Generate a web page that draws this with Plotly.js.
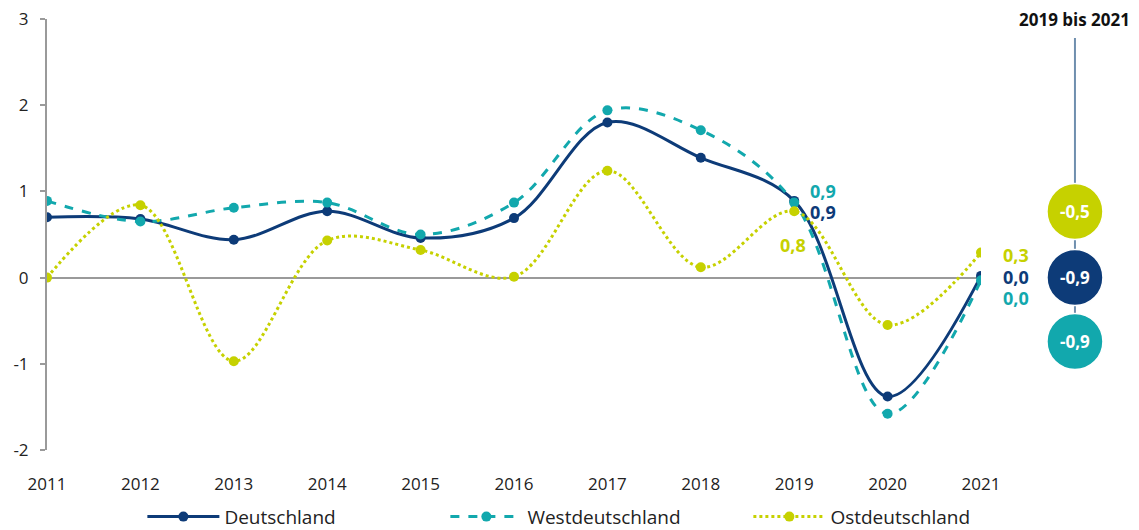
<!DOCTYPE html>
<html>
<head>
<meta charset="utf-8">
<script src="https://cdn.plot.ly/plotly-3.0.1.min.js"></script>
<style>html,body{margin:0;padding:0;background:#fff;}#chart{width:1139px;height:530px;}</style>
</head>
<body>
<div id="chart"></div>
<script>
const years = [2011, 2012, 2013, 2014, 2015, 2016, 2017, 2018, 2019, 2020, 2021];
const deutschland = [0.70, 0.68, 0.44, 0.77, 0.46, 0.69, 1.80, 1.39, 0.89, -1.38, 0.02];
const westdeutschland = [0.89, 0.65, 0.81, 0.87, 0.50, 0.87, 1.94, 1.71, 0.87, -1.58, -0.03];
const ostdeutschland = [0.00, 0.84, -0.97, 0.43, 0.32, 0.01, 1.24, 0.12, 0.77, -0.55, 0.29];
const seriesNames = ["Deutschland", "Westdeutschland", "Ostdeutschland"];
const yTicks = [-2, -1, 0, 1, 2, 3];
const periodTitle = "2019 bis 2021";

const C_D = "#0d3b78", C_W = "#12a8ad", C_O = "#c6d100";
const FONT = "Open Sans, sans-serif";

function fmt(v) {
  let s = (Math.round(v * 10) / 10).toFixed(1);
  if (s === "-0.0") s = "0.0";
  return s.replace(".", ",");
}

const i19 = years.indexOf(2019), i21 = years.indexOf(2021);

const traces = [
  {x: years, y: deutschland, name: seriesNames[0], mode: "lines+markers",
   line: {color: C_D, width: 3, shape: "spline", smoothing: 1}, marker: {color: C_D, size: 10}},
  {x: years, y: westdeutschland, name: seriesNames[1], mode: "lines+markers",
   line: {color: C_W, width: 3, shape: "spline", smoothing: 1, dash: "dash"}, marker: {color: C_W, size: 10}},
  {x: years, y: ostdeutschland, name: seriesNames[2], mode: "lines+markers",
   line: {color: C_O, width: 3, shape: "spline", smoothing: 1, dash: "dot"}, marker: {color: C_O, size: 10}}
];

const lblFont = (c) => ({family: FONT, size: 18, color: c, weight: 700});
const annotations = [
  {x: 2019, y: westdeutschland[i19], text: fmt(westdeutschland[i19]), xanchor: "left", xshift: 14, yshift: 12, font: lblFont(C_W)},
  {x: 2019, y: deutschland[i19], text: fmt(deutschland[i19]), xanchor: "left", xshift: 14, yshift: -11, font: lblFont(C_D)},
  {x: 2019, y: ostdeutschland[i19], text: fmt(ostdeutschland[i19]), xanchor: "right", xshift: 14, yshift: -34, font: lblFont(C_O)},
  {x: 2021, y: ostdeutschland[i21], text: fmt(ostdeutschland[i21]), xanchor: "left", xshift: 20, yshift: -2, font: lblFont(C_O)},
  {x: 2021, y: deutschland[i21], text: fmt(deutschland[i21]), xanchor: "left", xshift: 20, yshift: -1, font: lblFont(C_D)},
  {x: 2021, y: westdeutschland[i21], text: fmt(westdeutschland[i21]), xanchor: "left", xshift: 20, yshift: -18, font: lblFont(C_W)},
  {xref: "paper", yref: "paper", x: 1.1006, y: 1.0, xanchor: "center", yanchor: "middle", text: periodTitle,
   font: {family: FONT, size: 17, color: "#111", weight: 700}}
].map(a => Object.assign({showarrow: false}, a));

// change bubbles
const changes = [
  {v: ostdeutschland[i21] - ostdeutschland[i19], c: C_O, cy: 0.766},
  {v: deutschland[i21] - deutschland[i19], c: C_D, cy: 0.0},
  {v: westdeutschland[i21] - westdeutschland[i19], c: C_W, cy: -0.742}
];
const bx = 1.1006;
const shapes = [
  {type: "line", xref: "paper", yref: "paper", x0: bx, x1: bx, y0: (450 - 38) / 431, y1: (450 - 343) / 431,
   line: {color: "#6f8fae", width: 2}, layer: "above"}
];
changes.forEach(ch => {
  shapes.push({type: "circle", xref: "paper", yref: "y", xsizemode: "pixel", ysizemode: "pixel",
    xanchor: bx, yanchor: ch.cy, x0: -28, x1: 28, y0: -28, y1: 28,
    fillcolor: ch.c, line: {color: "#ffffff", width: 1.5}, layer: "above"});
  annotations.push({xref: "paper", yref: "y", x: bx, y: ch.cy, xanchor: "center", yanchor: "middle",
    text: fmt(ch.v), showarrow: false,
    font: {family: FONT, size: 17, color: "#ffffff", weight: 700}});
});

const layout = {
  width: 1139, height: 530,
  margin: {l: 47, r: 158, t: 19, b: 80, autoexpand: false},
  paper_bgcolor: "#ffffff", plot_bgcolor: "#ffffff",
  showlegend: true,
  legend: {orientation: "h", xref: "container", yref: "container", x: 0.125, xanchor: "left", y: 0.025, yanchor: "middle",
    bgcolor: "rgba(0,0,0,0)",
    font: {family: FONT, size: 19, color: "#222"},
    entrywidth: 216, itemwidth: 72},
  xaxis: {range: [2011, 2021], tickvals: years, ticktext: years.map(String), showgrid: false, zeroline: false,
    showline: false, ticks: "", ticklabelstandoff: 22, tickfont: {family: FONT, size: 17, color: "#222"}, fixedrange: true},
  yaxis: {range: [-2, 3], tickvals: yTicks, ticktext: yTicks.map(String), showgrid: false, zeroline: true,
    zerolinecolor: "#9a9a9a", zerolinewidth: 2, showline: true, linecolor: "#9a9a9a", linewidth: 2,
    ticks: "outside", ticklen: 5, tickwidth: 2, tickcolor: "#9a9a9a", ticklabelstandoff: 8,
    tickfont: {family: FONT, size: 17, color: "#222"}},
  shapes: shapes,
  annotations: annotations
};

Plotly.newPlot("chart", traces, layout, {displayModeBar: false, staticPlot: true});
</script>
</body>
</html>
